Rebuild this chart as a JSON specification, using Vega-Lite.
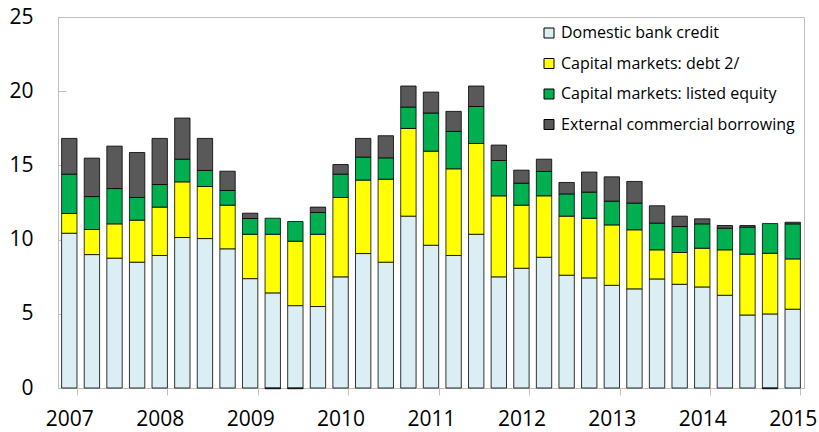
{
  "$schema": "https://vega.github.io/schema/vega-lite/v6.json",
  "width": 746,
  "height": 371,
  "autosize": {"type": "none"},
  "padding": {"left": 58, "top": 17, "right": 15, "bottom": 44},
  "config": {"view": {"stroke": "#BFBFBF", "strokeWidth": 1}, "font": "Open Sans"},
  "data": {"values": [
    {"q": "2007Q1", "k1": 10.43, "k2": 1.33, "k3": 2.65, "k4": 2.41},
    {"q": "2007Q2", "k1": 8.99, "k2": 1.69, "k3": 2.22, "k4": 2.59},
    {"q": "2007Q3", "k1": 8.75, "k2": 2.31, "k3": 2.38, "k4": 2.86},
    {"q": "2007Q4", "k1": 8.48, "k2": 2.83, "k3": 1.53, "k4": 3.03},
    {"q": "2008Q1", "k1": 8.93, "k2": 3.26, "k3": 1.52, "k4": 3.11},
    {"q": "2008Q2", "k1": 10.14, "k2": 3.75, "k3": 1.53, "k4": 2.77},
    {"q": "2008Q3", "k1": 10.07, "k2": 3.51, "k3": 1.08, "k4": 2.16},
    {"q": "2008Q4", "k1": 9.38, "k2": 2.94, "k3": 0.99, "k4": 1.30},
    {"q": "2009Q1", "k1": 7.37, "k2": 2.99, "k3": 1.06, "k4": 0.36},
    {"q": "2009Q2", "k1": 6.41, "k2": 3.95, "k3": 1.08, "k4": -0.05},
    {"q": "2009Q3", "k1": 5.55, "k2": 4.34, "k3": 1.33, "k4": -0.05},
    {"q": "2009Q4", "k1": 5.49, "k2": 4.87, "k3": 1.47, "k4": 0.36},
    {"q": "2010Q1", "k1": 7.49, "k2": 5.35, "k3": 1.57, "k4": 0.65},
    {"q": "2010Q2", "k1": 9.06, "k2": 4.95, "k3": 1.55, "k4": 1.26},
    {"q": "2010Q3", "k1": 8.48, "k2": 5.59, "k3": 1.44, "k4": 1.49},
    {"q": "2010Q4", "k1": 11.58, "k2": 5.91, "k3": 1.44, "k4": 1.42},
    {"q": "2011Q1", "k1": 9.62, "k2": 6.34, "k3": 2.57, "k4": 1.41},
    {"q": "2011Q2", "k1": 8.93, "k2": 5.84, "k3": 2.52, "k4": 1.35},
    {"q": "2011Q3", "k1": 10.36, "k2": 6.12, "k3": 2.49, "k4": 1.38},
    {"q": "2011Q4", "k1": 7.49, "k2": 5.46, "k3": 2.38, "k4": 1.04},
    {"q": "2012Q1", "k1": 8.07, "k2": 4.25, "k3": 1.48, "k4": 0.88},
    {"q": "2012Q2", "k1": 8.81, "k2": 4.14, "k3": 1.64, "k4": 0.83},
    {"q": "2012Q3", "k1": 7.60, "k2": 3.98, "k3": 1.50, "k4": 0.77},
    {"q": "2012Q4", "k1": 7.42, "k2": 4.02, "k3": 1.76, "k4": 1.35},
    {"q": "2013Q1", "k1": 6.92, "k2": 4.07, "k3": 1.60, "k4": 1.64},
    {"q": "2013Q2", "k1": 6.68, "k2": 3.98, "k3": 1.80, "k4": 1.46},
    {"q": "2013Q3", "k1": 7.35, "k2": 1.96, "k3": 1.80, "k4": 1.17},
    {"q": "2013Q4", "k1": 6.99, "k2": 2.14, "k3": 1.75, "k4": 0.70},
    {"q": "2014Q1", "k1": 6.81, "k2": 2.61, "k3": 1.64, "k4": 0.34},
    {"q": "2014Q2", "k1": 6.25, "k2": 3.06, "k3": 1.46, "k4": 0.18},
    {"q": "2014Q3", "k1": 4.92, "k2": 4.10, "k3": 1.82, "k4": 0.11},
    {"q": "2014Q4", "k1": 4.99, "k2": 4.09, "k3": 2.00, "k4": -0.05},
    {"q": "2015Q1", "k1": 5.31, "k2": 3.39, "k3": 2.36, "k4": 0.11}
  ]},
  "transform": [{"fold": ["k1", "k2", "k3", "k4"], "as": ["s", "v"]}],
  "mark": {"type": "bar", "stroke": "#000", "strokeWidth": 0.8},
  "encoding": {
    "x": {
      "field": "q", "type": "nominal", "sort": null,
      "scale": {"paddingInner": 0.32, "paddingOuter": 0.16},
      "axis": {
        "title": null, "labelAngle": 0, "tickBand": "extent",
        "labelExpr": "substring(datum.value,4)=='Q1' ? substring(datum.value,0,4) : ''",
        "tickOpacity": {"condition": {"test": "substring(datum.value,4)=='Q1'", "value": 1}, "value": 0},
        "domainColor": "#BFBFBF", "tickColor": "#BFBFBF", "tickSize": 7,
        "labelFontSize": 21, "labelColor": "#000", "labelPadding": 13
      }
    },
    "y": {
      "field": "v", "type": "quantitative",
      "scale": {"domain": [0, 25], "nice": false},
      "axis": {
        "title": null, "values": [0, 5, 10, 15, 20, 25], "grid": false,
        "tickSize": -8, "domainColor": "#BFBFBF", "tickColor": "#BFBFBF",
        "labelFontSize": 21, "labelColor": "#000", "labelPadding": 33
      }
    },
    "order": {"field": "s", "sort": "ascending"},
    "color": {
      "field": "s", "type": "nominal",
      "scale": {"domain": ["k1", "k2", "k3", "k4"], "range": ["#DAEEF3", "#FFFF00", "#00B050", "#595959"]},
      "legend": {
        "orient": "none", "legendX": 483, "legendY": 8, "title": null,
        "symbolType": "square", "symbolSize": 100, "symbolStrokeColor": "#000", "symbolStrokeWidth": 1,
        "labelFontSize": 16, "labelColor": "#000", "rowPadding": 14.5, "labelOffset": 4, "labelLimit": 320,
        "labelExpr": "datum.value=='k1' ? 'Domestic bank credit' : datum.value=='k2' ? 'Capital markets: debt 2/' : datum.value=='k3' ? 'Capital markets: listed equity' : 'External commercial borrowing'"
      }
    }
  }
}
